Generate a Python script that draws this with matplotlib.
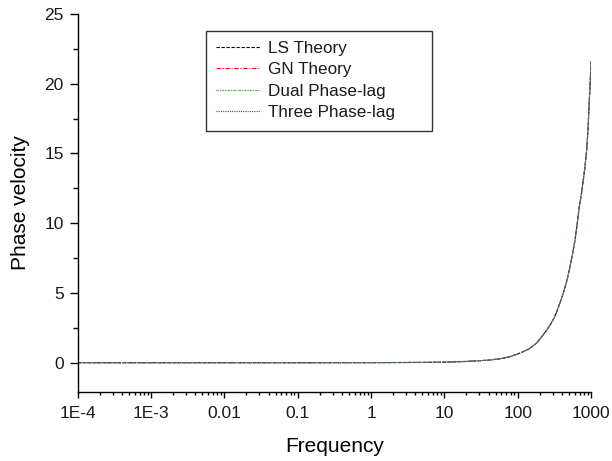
import matplotlib
matplotlib.use("Agg")
import matplotlib.pyplot as plt
from matplotlib.ticker import LogLocator, MultipleLocator, NullFormatter

plt.rcParams['font.family'] = ['Liberation Sans', 'DejaVu Sans']
plt.rcParams['text.color'] = '#1a1a1a'
plt.rcParams['xtick.labelcolor'] = '#1a1a1a'
plt.rcParams['ytick.labelcolor'] = '#1a1a1a'

# values (all four theories overlap)
freq = [1e-4, 1e-3, 0.01, 0.1, 1, 5, 10, 20, 42, 60, 78, 100, 120, 147, 180,
        213, 250, 280, 306, 335, 360, 390, 419, 470, 517, 560, 605, 650, 692,
        740, 785, 830, 873, 910, 940, 970, 1000]
velocity = [0, 0, 0, 0, 0.005, 0.02, 0.04, 0.09, 0.19, 0.3, 0.43, 0.62, 0.8,
            1.03, 1.4, 1.86, 2.35, 2.75, 3.1, 3.55, 4.0, 4.5, 5.0, 5.9, 6.9,
            7.8, 8.8, 10.0, 11.2, 12.1, 13.1, 14.1, 15.25, 16.7, 18.4, 19.8,
            21.6]

series_names = ['LS Theory', 'GN Theory', 'Dual Phase-lag', 'Three Phase-lag']
series_vals = [velocity, velocity, velocity, velocity]
colors = ['black', 'red', '#3cb83c', '#3050b0']
styles = [(0, (3, 1.5)), (0, (4, 1.5, 1, 1.5)), (0, (2, 1, 1, 1)), (0, (1, 1))]

xtick_vals = [1e-4, 1e-3, 0.01, 0.1, 1, 10, 100, 1000]
xtick_labels = ['1E-4', '1E-3', '0.01', '0.1', '1', '10', '100', '1000']

fig = plt.figure(figsize=(6.12, 4.61), dpi=100)
ax = fig.add_axes([0.127, 0.1503, 0.8387, 0.8193])

for name, vals, c, ls in zip(series_names, series_vals, colors, styles):
    ax.plot(freq, vals, color=c, linestyle=ls, linewidth=0.8, label=name)

ax.set_xscale('log')
ax.set_xlim(1e-4, 1000)
ax.set_ylim(-2.08, 25)
ax.set_xticks(xtick_vals)
ax.set_xticklabels(xtick_labels)
ax.xaxis.set_minor_locator(LogLocator(base=10, subs=range(2, 10), numticks=20))
ax.xaxis.set_minor_formatter(NullFormatter())
ax.yaxis.set_major_locator(MultipleLocator(5))
ax.yaxis.set_minor_locator(MultipleLocator(2.5))

for side in ['top', 'right']:
    ax.spines[side].set_visible(False)
for side in ['left', 'bottom']:
    ax.spines[side].set_linewidth(1.0)
ax.tick_params(axis='x', which='major', direction='out', length=4.5, width=1, labelsize=12.5, pad=6)
ax.tick_params(axis='x', which='minor', direction='out', length=2.5, width=1)
ax.tick_params(axis='y', which='major', direction='out', length=6, width=1, labelsize=12.5, pad=4)
ax.tick_params(axis='y', which='minor', direction='out', length=3.5, width=1)

ax.set_xlabel('Frequency', fontsize=15, labelpad=11)
ax.set_ylabel('Phase velocity', fontsize=15, labelpad=10)

leg = ax.legend(loc='upper left', bbox_to_anchor=(0.2494, 0.6947, 0.4414, 0.2611),
                mode='expand', fontsize=12.3, handlelength=2.6, handletextpad=0.45,
                labelspacing=0.38, borderpad=0.6, borderaxespad=0,
                fancybox=False, framealpha=1)
leg.get_frame().set_edgecolor('#333333')
leg.get_frame().set_linewidth(1.0)

fig.savefig('out.png', dpi=100)
